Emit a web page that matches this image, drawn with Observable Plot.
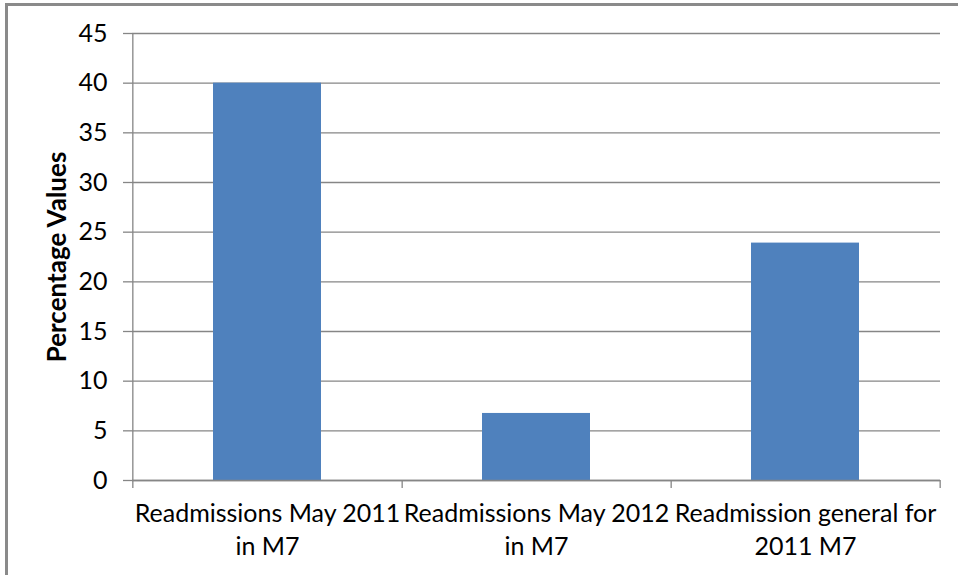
<!DOCTYPE html>
<html>
<head>
<meta charset="utf-8">
<script src="https://cdn.jsdelivr.net/npm/d3@7"></script>
<script src="https://cdn.jsdelivr.net/npm/@observablehq/plot@0.6"></script>
<style>
  html, body { margin: 0; padding: 0; background: #fff; }
  #wrap { position: relative; width: 958px; height: 575px; overflow: hidden; }
  #frame { position: absolute; left: 5px; top: 3px; right: -10px; bottom: -10px;
           border-top: 3px solid #8a8a8a; border-left: 3px solid #8a8a8a; pointer-events: none; }
  svg { display: block; }
</style>
</head>
<body>
<div id="wrap"><div id="frame"></div></div>
<script>
const categories = [
  "Readmissions May 2011 in M7",
  "Readmissions May 2012 in M7",
  "Readmission general for 2011 M7"
];
const tickLabels = [
  "Readmissions May 2011\nin M7",
  "Readmissions May 2012\nin M7",
  "Readmission general for\n2011 M7"
];
const values = [40, 6.75, 23.9];
const yTicks = [0, 5, 10, 15, 20, 25, 30, 35, 40, 45];
const yLabel = "Percentage Values";

const data = categories.map((c, i) => ({category: c, value: values[i]}));

const W = 958, H = 575, mL = 132, mR = 18, mT = 33, mB = 95;
const step = (W - mL - mR) / categories.length;
const font = "Lato, 'Open Sans', sans-serif";

const chart = Plot.plot({
  width: W,
  height: H,
  marginLeft: mL,
  marginRight: mR,
  marginTop: mT,
  marginBottom: mB,
  style: {fontFamily: font, color: "#000", background: "transparent", overflow: "visible"},
  x: {type: "band", domain: categories, paddingInner: 0.6, paddingOuter: 0.3},
  y: {domain: [0, 45]},
  marks: [
    Plot.gridY(yTicks, {stroke: "#868686", strokeOpacity: 1, strokeWidth: 1.3}),
    Plot.barY(data, {x: "category", y: "value", fill: "#4F81BD"}),
    // left axis line
    Plot.ruleX([categories[0]], {dx: -step / 2, y1: -0.8, y2: 45, stroke: "#868686", strokeWidth: 1.3}),
    // category boundary ticks
    Plot.ruleX(categories, {x: d => d, dx: step / 2, y1: -0.8, y2: 0, stroke: "#868686", strokeWidth: 1.3}),
    Plot.ruleY([0], {stroke: "#868686", strokeWidth: 1.3}),
    Plot.axisY({ticks: yTicks, tickSize: 9, tickPadding: 16, fontSize: 25, stroke: "#868686", strokeWidth: 1.3, label: null, color: "#000"}),
    Plot.axisX({tickSize: 0, tickPadding: 18, fontSize: 25, lineHeight: 1.32, label: null,
      tickFormat: d => tickLabels[categories.indexOf(d)], color: "#000"}),
    Plot.text([yLabel], {frameAnchor: "left", textAnchor: "middle", dx: -75, rotate: -90, fontSize: 26, fontWeight: "bold", fill: "#000"})
  ]
});
document.getElementById("wrap").prepend(chart);
</script>
</body>
</html>
